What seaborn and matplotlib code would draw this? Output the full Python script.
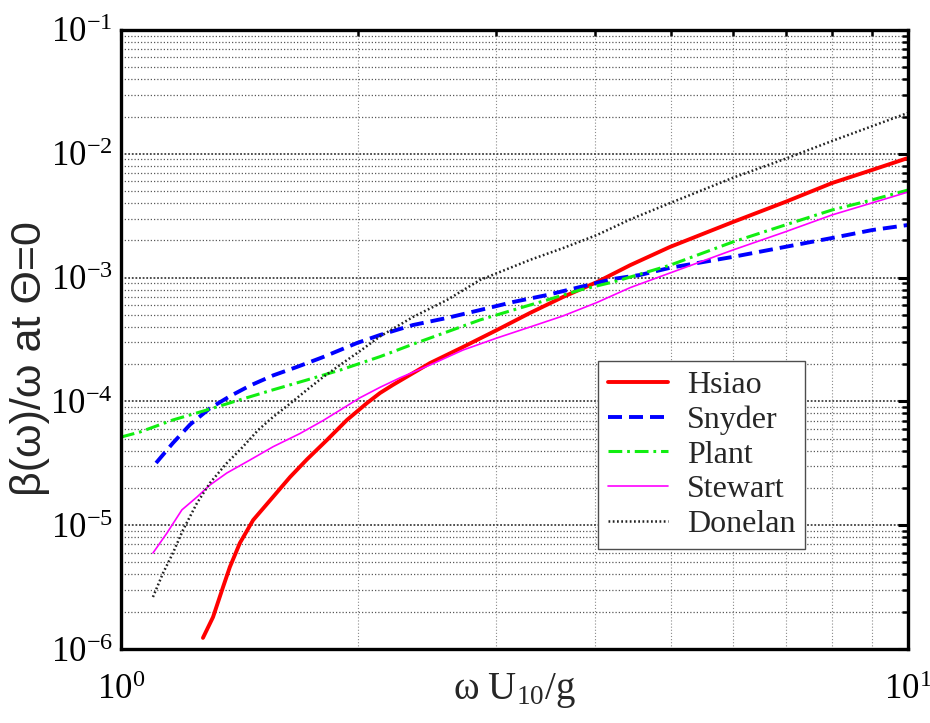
import numpy as np
import pandas as pd
import matplotlib
matplotlib.use("Agg")
import matplotlib.pyplot as plt
import seaborn as sns
from matplotlib.ticker import LogLocator, NullFormatter, LogFormatterMathtext

# ---------------- data ----------------
hsiao_x = [1.271, 1.309, 1.348, 1.375, 1.416, 1.472, 1.560, 1.640, 1.723, 1.827, 1.937, 2.054, 2.134,
           2.216, 2.470, 2.720, 3.003, 3.309, 3.644, 4.026, 4.436, 4.985, 5.99, 6.98, 8.01, 9.0, 10.0]
hsiao_y = [1.23e-6, 1.81e-6, 3.17e-6, 4.59e-6, 7.18e-6, 1.10e-5, 1.69e-5, 2.45e-5, 3.40e-5, 4.88e-5,
           7.08e-5, 9.7e-5, 1.17e-4, 1.36e-4, 2.04e-4, 2.75e-4, 3.77e-4, 5.18e-4, 6.97e-4, 9.21e-4,
           1.26e-3, 1.77e-3, 2.81e-3, 4.08e-3, 5.81e-3, 7.40e-3, 9.25e-3]

snyder_x = [1.108, 1.164, 1.224, 1.297, 1.375, 1.458, 1.560, 1.674, 1.806, 1.994, 2.134, 2.350, 2.595,
            2.859, 3.149, 3.477, 3.830, 4.219, 4.565, 4.985, 5.99, 6.98, 8.01, 9.0, 10.0]
snyder_y = [3.18e-5, 4.61e-5, 6.50e-5, 8.8e-5, 1.10e-4, 1.34e-4, 1.62e-4, 1.90e-4, 2.28e-4, 2.96e-4,
            3.44e-4, 4.14e-4, 4.72e-4, 5.47e-4, 6.35e-4, 7.23e-4, 8.39e-4, 9.75e-4, 1.05e-3, 1.20e-3,
            1.47e-3, 1.77e-3, 2.09e-3, 2.42e-3, 2.66e-3]

plant_x = [1.0, 1.057, 1.164, 1.286, 1.416, 1.560, 1.723, 1.898, 2.134, 2.350, 2.595, 2.859, 3.149,
           3.477, 3.830, 4.219, 4.436, 4.985, 5.99, 6.98, 8.01, 9.0, 10.0]
plant_y = [5.15e-5, 5.66e-5, 7.08e-5, 8.53e-5, 1.03e-4, 1.24e-4, 1.49e-4, 1.79e-4, 2.30e-4, 2.90e-4,
           3.64e-4, 4.55e-4, 5.47e-4, 6.59e-4, 7.94e-4, 9.21e-4, 1.01e-3, 1.26e-3, 1.94e-3, 2.66e-3,
           3.52e-3, 4.24e-3, 5.10e-3]

stewart_x = [1.098, 1.144, 1.195, 1.249, 1.297, 1.363, 1.458, 1.560, 1.688, 1.806, 1.898, 2.012, 2.134,
             2.262, 2.470, 2.720, 3.003, 3.309, 3.644, 4.026, 4.436, 4.985, 5.99, 6.98, 8.01, 9.0, 10.0]
stewart_y = [5.96e-6, 8.65e-6, 1.33e-5, 1.69e-5, 2.11e-5, 2.64e-5, 3.36e-5, 4.3e-5, 5.5e-5, 7.0e-5,
             8.5e-5, 1.07e-4, 1.30e-4, 1.55e-4, 1.97e-4, 2.60e-4, 3.25e-4, 3.99e-4, 4.90e-4, 6.3e-4,
             8.3e-4, 1.09e-3, 1.67e-3, 2.34e-3, 3.21e-3, 4.01e-3, 4.91e-3]

donelan_x = [1.098, 1.131, 1.164, 1.199, 1.249, 1.297, 1.363, 1.416, 1.495, 1.560, 1.640, 1.723, 1.806,
             1.898, 2.012, 2.134, 2.350, 2.595, 2.859, 3.309, 3.644, 4.026, 4.436, 4.985, 5.99, 6.98,
             8.01, 9.0, 10.0]
donelan_y = [2.63e-6, 4.11e-6, 5.96e-6, 9.15e-6, 1.51e-5, 2.19e-5, 3.18e-5, 4.05e-5, 5.9e-5, 7.48e-5,
             9.6e-5, 1.24e-4, 1.57e-4, 1.97e-4, 2.55e-4, 3.35e-4, 4.81e-4, 6.59e-4, 9.57e-4, 1.39e-3,
             1.73e-3, 2.21e-3, 2.95e-3, 4.0e-3, 6.4e-3, 9.1e-3, 1.27e-2, 1.67e-2, 2.14e-2]

series_names = ["Hsiao", "Snyder", "Plant", "Stewart", "Donelan"]
x_label = r"$\mathregular{ω\ U_{10}/g}$"
y_label = "β(ω)/ω at Θ=0"

# ---------------- style ----------------
sns.set_style("white")
plt.rcParams["font.family"] = ["Liberation Serif", "DejaVu Serif"]
plt.rcParams["mathtext.fontset"] = "custom"
plt.rcParams["mathtext.rm"] = "Liberation Serif"
plt.rcParams["mathtext.it"] = "Liberation Serif:italic"
plt.rcParams["mathtext.bf"] = "Liberation Serif:bold"

fig = plt.figure(figsize=(9.30, 7.23), dpi=100)
ax = fig.add_axes([121/930, 1-649/723, (908-121)/930, (649-30)/723])

styles = {
    "Hsiao":   dict(color="#ff0000", lw=2.8, linestyle="-"),
    "Snyder":  dict(color="#0000ff", lw=2.8, linestyle=(0, (3.6, 1.8))),
    "Plant":   dict(color="#11ee11", lw=2.2, linestyle=(0, (4.5, 1.6, 0.9, 1.6))),
    "Stewart": dict(color="#ff00ff", lw=1.2, linestyle="-"),
    "Donelan": dict(color="#222222", lw=1.8, linestyle=(0, (0.7, 1.0))),
}
xs = [hsiao_x, snyder_x, plant_x, stewart_x, donelan_x]
ys = [hsiao_y, snyder_y, plant_y, stewart_y, donelan_y]

for name, x, y in zip(series_names, xs, ys):
    df = pd.DataFrame({"x": x, "y": y})
    sns.lineplot(data=df, x="x", y="y", ax=ax, label=name, estimator=None,
                 sort=False, **styles[name])

ax.set_xscale("log")
ax.set_yscale("log")
ax.set_xlim(1, 10)
ax.set_ylim(1e-6, 1e-1)

ax.xaxis.set_major_locator(LogLocator(base=10, numticks=10))
ax.xaxis.set_minor_locator(LogLocator(base=10, subs=np.arange(2, 10), numticks=20))
ax.yaxis.set_major_locator(LogLocator(base=10, numticks=10))
ax.yaxis.set_minor_locator(LogLocator(base=10, subs=np.arange(2, 10), numticks=20))
ax.xaxis.set_major_formatter(LogFormatterMathtext())
ax.yaxis.set_major_formatter(LogFormatterMathtext())
ax.xaxis.set_minor_formatter(NullFormatter())
ax.yaxis.set_minor_formatter(NullFormatter())

# grid
ax.grid(True, which="major", axis="y", ls=(0, (1, 1.0)), color="0.25", lw=1.3)
ax.grid(True, which="minor", axis="y", ls=(0, (1, 1.6)), color="0.35", lw=0.9)
ax.grid(True, which="both", axis="x", ls=(0, (1, 1.8)), color="0.55", lw=0.8)
ax.set_axisbelow(True)

for s in ax.spines.values():
    s.set_linewidth(2.4)
    s.set_color("black")

ax.tick_params(which="both", direction="in", top=True, right=True, colors="black")
ax.tick_params(which="major", length=7, width=2.2, labelsize=25)
ax.tick_params(which="minor", length=4, width=1.8)
ax.tick_params(axis="x", which="major", pad=18)
ax.tick_params(axis="y", which="major", pad=6)

ax.set_xlabel(x_label, fontsize=28)
ax.xaxis.set_label_coords(0.5, -0.035)
ax.set_ylabel(y_label, fontsize=31, family=["Liberation Sans", "DejaVu Sans"])
ax.yaxis.set_label_coords(-0.09, 0.47)

leg = ax.legend(loc="lower left", bbox_to_anchor=(0.606, 0.162), fontsize=23,
                frameon=True, fancybox=False, edgecolor="0.3", framealpha=1,
                handlelength=1.9, handletextpad=0.6, labelspacing=0.17,
                borderpad=0.3, borderaxespad=0)
leg.get_frame().set_linewidth(1.0)

fig.savefig("out.png", dpi=100)
